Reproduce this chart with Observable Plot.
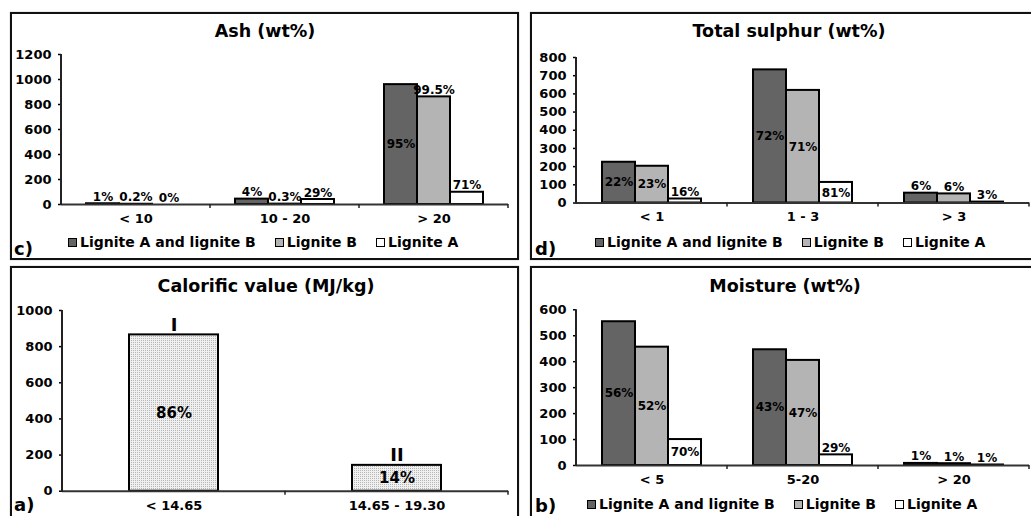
<!DOCTYPE html>
<html><head><meta charset="utf-8">
<script src="https://cdn.jsdelivr.net/npm/d3@7"></script>
<script src="https://cdn.jsdelivr.net/npm/@observablehq/plot@0.6"></script>
<style>
html,body{margin:0;padding:0;background:#fff}
body{width:1031px;height:516px;overflow:hidden;position:relative;font-family:"DejaVu Sans",sans-serif;font-weight:bold;color:#000}
.box{position:absolute;border:2px solid #111;box-sizing:border-box;pointer-events:none;box-shadow:0 0 1px #888}
.title{position:absolute;font-size:17.5px;white-space:nowrap;transform:translate(-50%,-50%)}
.legend{position:absolute;display:flex;gap:19px;font-size:14px;white-space:nowrap;transform:translateY(-50%);align-items:center}
.legend .item{display:flex;align-items:center}
.legend .sw{display:inline-block;width:7px;height:7px;border:1.5px solid #000;margin-right:3px}
.lab{position:absolute;font-size:18px;line-height:20px;transform:translateY(-50%)}
</style></head><body>
<script>
// ---------- data ----------
const seriesNames = ["Lignite A and lignite B", "Lignite B", "Lignite A"];
const seriesColors = ["#646464", "#b4b4b4", "#ffffff"];

// c) Ash (wt%)
const ashCategories = ["< 10", "10 - 20", "> 20"];
const ashTicks = [0, 200, 400, 600, 800, 1000, 1200];
const ashAB = [6, 43, 959];
const ashB = [2, 3, 861];
const ashA = [0, 40, 98];
const ashPctAB = ["1%", "4%", "95%"];
const ashPctB = ["0.2%", "0.3%", "99.5%"];
const ashPctA = ["0%", "29%", "71%"];
const ashInsideAB = [0, 0, 1];
const ashInsideB = [0, 0, 0];
const ashInsideA = [0, 0, 0];

// d) Total sulphur (wt%)
const sulCategories = ["< 1", "1 - 3", "> 3"];
const sulTicks = [0, 100, 200, 300, 400, 500, 600, 700, 800];
const sulAB = [224, 732, 54];
const sulB = [202, 619, 50];
const sulA = [22, 113, 5];
const sulPctAB = ["22%", "72%", "6%"];
const sulPctB = ["23%", "71%", "6%"];
const sulPctA = ["16%", "81%", "3%"];
const sulInsideAB = [1, 1, 0];
const sulInsideB = [1, 1, 0];
const sulInsideA = [0, 1, 0];

// b) Moisture (wt%)
const moiCategories = ["< 5", "5-20", "> 20"];
const moiTicks = [0, 100, 200, 300, 400, 500, 600];
const moiAB = [554, 446, 8];
const moiB = [456, 405, 7];
const moiA = [100, 41, 2];
const moiPctAB = ["56%", "43%", "1%"];
const moiPctB = ["52%", "47%", "1%"];
const moiPctA = ["70%", "29%", "1%"];
const moiInsideAB = [1, 1, 0];
const moiInsideB = [1, 1, 0];
const moiInsideA = [1, 0, 0];

// a) Calorific value (MJ/kg)
const calCategories = ["< 14.65", "14.65 - 19.30"];
const calTicks = [0, 200, 400, 600, 800, 1000];
const calValues = [865, 143];
const calPct = ["86%", "14%"];
const calClass = ["I", "II"];

// ---------- helpers ----------
function buildRows(cats, vals, pcts, inside) {
  const out = [];
  cats.forEach((c, i) => seriesNames.forEach((s, j) => {
    out.push({cat: c, series: s, value: vals[j][i], pct: pcts[j][i], inside: !!inside[j][i]});
  }));
  return out;
}

// axis lines: y-axis line and category divider ticks, placed with Plot's fx / y scales
function axisLinesMark(yMax) {
  return Plot.frame({
    facet: "super",
    stroke: "none",
    render(index, scales) {
      const fx = scales.fx, y = scales.y;
      const y0 = y(0);
      const g = d3.create("svg:g").attr("stroke", "#222").attr("fill", "none");
      const x0 = fx(fx.domain()[0]);
      g.append("line").attr("x1", x0).attr("x2", x0).attr("y1", y(yMax)).attr("y2", y0 + 1).attr("stroke-width", 2);
      for (const c of fx.domain()) {
        const xx = fx(c) + fx.bandwidth();
        g.append("line").attr("x1", xx).attr("x2", xx).attr("y1", y0).attr("y2", y0 + 4).attr("stroke-width", 1.5);
      }
      return g.node();
    }
  });
}

function baseStyle(left, top) {
  return {position: "absolute", left: left + "px", top: top + "px", fontFamily: "DejaVu Sans",
    fontWeight: "bold", fontSize: "13px", color: "#000", background: "transparent", overflow: "visible"};
}

function grouped({cats, data, yMax, yTicks, left, top, width, height, mL, mR, mT, mB, xPad}) {
  const svg = Plot.plot({
    width, height, marginLeft: mL, marginRight: mR, marginTop: mT, marginBottom: mB,
    style: baseStyle(left, top),
    fx: {domain: cats, padding: 0},
    x: {domain: seriesNames, paddingInner: 0, paddingOuter: xPad, axis: null},
    y: {domain: [0, yMax]},
    color: {domain: seriesNames, range: seriesColors},
    marks: [
      Plot.barY(data, {fx: "cat", x: "series", y: "value", fill: "series", stroke: "#000", strokeWidth: 2}),
      Plot.ruleY([0], {stroke: "#333", strokeWidth: 2}),
      Plot.axisY({ticks: yTicks, tickFormat: "d", tickSize: 3, tickPadding: 7, label: null, strokeWidth: 1.5}),
      Plot.axisFx({anchor: "bottom", tickSize: 0, tickPadding: 9, label: null}),
      Plot.text(data.filter(d => d.inside), {fx: "cat", x: "series", y: d => d.value / 2, text: "pct", fontSize: 12}),
      Plot.text(data.filter(d => !d.inside), {fx: "cat", x: "series", y: "value", text: "pct", fontSize: 12, lineAnchor: "bottom", dy: -3}),
      axisLinesMark(yMax)
    ]
  });
  document.body.append(svg);
}

function addBox(left, top, width, height) {
  const d = document.createElement("div");
  d.className = "box";
  Object.assign(d.style, {left: left + "px", top: top + "px", width: width + "px", height: height + "px"});
  document.body.append(d);
}
function addText(cls, txt, x, y) {
  const d = document.createElement("div");
  d.className = cls; d.textContent = txt;
  d.style.left = x + "px"; d.style.top = y + "px";
  document.body.append(d);
}
function addLegend(left, cy) {
  const div = document.createElement("div");
  div.className = "legend";
  div.style.left = left + "px"; div.style.top = cy + "px";
  seriesNames.forEach((s, i) => {
    const item = document.createElement("div"); item.className = "item";
    const sw = document.createElement("span"); sw.className = "sw"; sw.style.background = seriesColors[i];
    item.append(sw, document.createTextNode(s));
    div.append(item);
  });
  document.body.append(div);
}

// ---------- panel c: Ash ----------
grouped({cats: ashCategories, data: buildRows(ashCategories, [ashAB, ashB, ashA], [ashPctAB, ashPctB, ashPctA], [ashInsideAB, ashInsideB, ashInsideA]),
  yMax: 1200, yTicks: ashTicks, left: 10, top: 12, width: 509, height: 248, mL: 51, mR: 11, mT: 42, mB: 56, xPad: 0.757});
// ---------- panel d: Sulphur ----------
grouped({cats: sulCategories, data: buildRows(sulCategories, [sulAB, sulB, sulA], [sulPctAB, sulPctB, sulPctA], [sulInsideAB, sulInsideB, sulInsideA]),
  yMax: 800, yTicks: sulTicks, left: 530, top: 12, width: 501, height: 248, mL: 45, mR: 1, mT: 45, mB: 57.5, xPad: 0.73});
// ---------- panel b: Moisture ----------
grouped({cats: moiCategories, data: buildRows(moiCategories, [moiAB, moiB, moiA], [moiPctAB, moiPctB, moiPctA], [moiInsideAB, moiInsideB, moiInsideA]),
  yMax: 600, yTicks: moiTicks, left: 530, top: 266, width: 501, height: 250, mL: 45, mR: 1, mT: 43.3, mB: 51, xPad: 0.73});

// ---------- panel a: Calorific value ----------
{
  const rows = calCategories.map((c, i) => ({cat: c, series: "n", value: calValues[i], pct: calPct[i], cls: calClass[i]}));
  const svg = Plot.plot({
    width: 509, height: 250, marginLeft: 51, marginRight: 11, marginTop: 44, marginBottom: 25.3,
    style: baseStyle(10, 266),
    fx: {domain: calCategories, padding: 0},
    x: {domain: ["n"], paddingInner: 0, paddingOuter: 0.742, axis: null},
    y: {domain: [0, 1000]},
    marks: [
      Plot.barY(rows, {fx: "cat", x: "series", y: "value", fill: "url(#calDots)", stroke: "#000", strokeWidth: 2}),
      Plot.ruleY([0], {stroke: "#333", strokeWidth: 2}),
      Plot.axisY({ticks: calTicks, tickFormat: "d", tickSize: 3, tickPadding: 7, label: null, strokeWidth: 1.5}),
      Plot.axisFx({anchor: "bottom", tickSize: 0, tickPadding: 9.5, label: null}),
      Plot.text(rows, {fx: "cat", x: "series", y: d => d.value / 2, text: "pct", fontSize: 15}),
      Plot.text(rows, {fx: "cat", x: "series", y: "value", text: "cls", fontSize: 18, lineAnchor: "bottom", dy: -4}),
      axisLinesMark(1000)
    ]
  });
  const defs = d3.select(svg).insert("defs", ":first-child");
  const pat = defs.append("pattern").attr("id", "calDots").attr("width", 2).attr("height", 2).attr("patternUnits", "userSpaceOnUse");
  pat.append("rect").attr("width", 2).attr("height", 2).attr("fill", "#f0f0f0");
  pat.append("rect").attr("width", 1).attr("height", 1).attr("fill", "#b5b5b5");
  document.body.append(svg);
}

// ---------- frames, titles, legends, labels ----------
addBox(10, 12, 509, 248);
addBox(530, 12, 520, 248);
addBox(10, 266, 509, 270);
addBox(530, 266, 520, 270);

addText("title", "Ash (wt%)", 265, 31);
addText("title", "Total sulphur (wt%)", 789, 31);
addText("title", "Calorific value (MJ/kg)", 266, 286);
addText("title", "Moisture (wt%)", 785, 286);

addLegend(68, 242);
addLegend(595, 242);
addLegend(587, 504);

addText("lab", "c)", 14, 249);
addText("lab", "d)", 535, 249);
addText("lab", "a)", 14, 505);
addText("lab", "b)", 535, 506);
</script>
</body></html>
